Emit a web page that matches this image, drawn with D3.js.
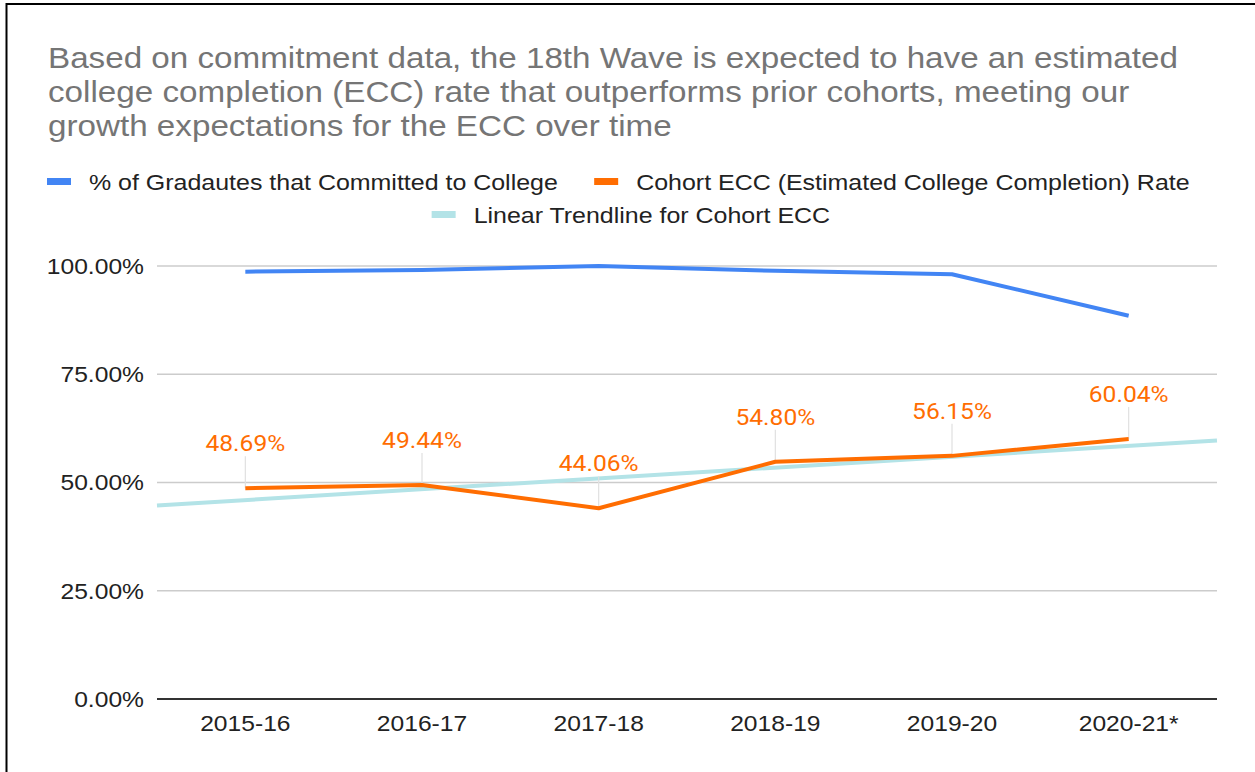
<!DOCTYPE html>
<html>
<head>
<meta charset="utf-8">
<script src="https://cdn.jsdelivr.net/npm/d3@7"></script>
<style>
  html, body { margin: 0; padding: 0; background: #fff; }
  svg { display: block; }
</style>
</head>
<body>
<svg id="chart" width="1255" height="772"></svg>
<script>
// ---- data ----
const categories = ["2015-16", "2016-17", "2017-18", "2018-19", "2019-20", "2020-21*"];
const committedValues = [0.987, 0.991, 1.000, 0.989, 0.981, 0.885];
const eccValues = [0.4869, 0.4944, 0.4406, 0.5480, 0.5615, 0.6004];
const yTicks = [0, 0.25, 0.5, 0.75, 1.0];
const titleLines = [
  "Based on commitment data, the 18th Wave is expected to have an estimated",
  "college completion (ECC) rate that outperforms prior cohorts, meeting our",
  "growth expectations for the ECC over time"
];
const seriesNames = [
  "% of Gradautes that Committed to College",
  "Cohort ECC (Estimated College Completion) Rate",
  "Linear Trendline for Cohort ECC"
];
const seriesColors = ["#4285f4", "#ff6d01", "#b3e3e7"];

// ---- layout ----
const W = 1255, H = 772;
const SX = 1.12; // horizontal text stretch of the reference rendering
const plot = { left: 157, right: 1217, top: 266, bottom: 699 };
const svg = d3.select("#chart");
const sans = "'Liberation Sans', Arial, sans-serif";

function stretchText(sel) {
  sel.each(function () {
    const t = d3.select(this);
    const x0 = +t.attr("x") || 0, y0 = +t.attr("y") || 0;
    t.attr("x", 0).attr("y", 0)
     .attr("transform", `translate(${x0},${y0}) scale(${SX},1)`);
  });
}

// frame
svg.append("line").attr("x1", 6).attr("x2", W).attr("y1", 4).attr("y2", 4)
  .attr("stroke", "#000").attr("stroke-width", 2);
svg.append("line").attr("x1", 6.5).attr("x2", 6.5).attr("y1", 3).attr("y2", H)
  .attr("stroke", "#000").attr("stroke-width", 2);

// title
svg.append("g").selectAll("text").data(titleLines).join("text")
  .attr("x", 48).attr("y", (d, i) => 68 + i * 34)
  .attr("font-family", sans).attr("font-size", 29.65).attr("fill", "#757575")
  .text(d => d)
  .call(stretchText);

// legend
const legend = svg.append("g").attr("font-family", sans).attr("font-size", 22.3).attr("fill", "#222");
function legendItem(g, x, yc, i) {
  g.append("rect").attr("x", x).attr("y", yc - 3.5).attr("width", 24).attr("height", 7)
    .attr("fill", seriesColors[i]);
  const t = g.append("text").attr("x", x + 42).attr("y", yc + 8).text(seriesNames[i]);
  const w = t.node().getComputedTextLength() * SX;
  t.call(stretchText);
  return x + 42 + w;
}
let lx = legendItem(legend, 47, 181.5, 0);
legendItem(legend, lx + 36, 181.5, 1);
// second row centered
const tmp = legend.append("text").text(seriesNames[2]);
const w2 = 42 + tmp.node().getComputedTextLength() * SX;
tmp.remove();
legendItem(legend, 631 - w2 / 2, 214.5, 2);

// scales
const x = d3.scaleBand().domain(categories).range([plot.left, plot.right]);
const y = d3.scaleLinear().domain([0, 1]).range([plot.bottom, plot.top]);
const cx = d => x(d) + x.bandwidth() / 2;

// gridlines
svg.append("g").selectAll("line").data(yTicks.filter(t => t > 0)).join("line")
  .attr("x1", plot.left).attr("x2", plot.right)
  .attr("y1", d => y(d)).attr("y2", d => y(d))
  .attr("stroke", "#cccccc").attr("stroke-width", 1.5);

// y axis labels
const yAxis = d3.axisLeft(y).tickValues(yTicks).tickFormat(d3.format(".2%")).tickSize(0).tickPadding(13);
const yg = svg.append("g").attr("transform", `translate(${plot.left},0)`).call(yAxis);
yg.select(".domain").remove();
yg.selectAll("text").attr("font-family", sans).attr("font-size", 22).attr("fill", "#222")
  .attr("dy", "0.34em").call(stretchText);

// x axis
const xAxis = d3.axisBottom(x).tickSize(0).tickPadding(16);
const xg = svg.append("g").attr("transform", `translate(0,${plot.bottom})`).call(xAxis);
xg.select(".domain").remove();
xg.selectAll("text").attr("font-family", sans).attr("font-size", 22).attr("fill", "#222")
  .call(stretchText);

// baseline
svg.append("line").attr("x1", plot.left).attr("x2", plot.right)
  .attr("y1", y(0)).attr("y2", y(0)).attr("stroke", "#333").attr("stroke-width", 2);

// linear trendline (least squares over the ECC series)
const n = eccValues.length;
const idx = d3.range(n);
const mx = d3.mean(idx), my = d3.mean(eccValues);
const slope = d3.sum(idx, i => (i - mx) * (eccValues[i] - my)) / d3.sum(idx, i => (i - mx) ** 2);
const icpt = my - slope * mx;
const xi = d3.scaleLinear().domain([-0.5, n - 0.5]).range([plot.left, plot.right]);
const trendEnds = [-0.5, n - 0.5];
svg.append("path")
  .attr("d", d3.line().x(t => xi(t)).y(t => y(icpt + slope * t))(trendEnds))
  .attr("fill", "none").attr("stroke", seriesColors[2]).attr("stroke-width", 4);

// data label leaders
svg.append("g").selectAll("line").data(eccValues).join("line")
  .attr("x1", (d, i) => cx(categories[i])).attr("x2", (d, i) => cx(categories[i]))
  .attr("y1", d => y(d) - 32).attr("y2", d => y(d))
  .attr("stroke", "#e0e0e0").attr("stroke-width", 1.2);

// lines
const line = d3.line().x((d, i) => cx(categories[i])).y(d => y(d));
svg.append("path").attr("d", line(committedValues))
  .attr("fill", "none").attr("stroke", seriesColors[0]).attr("stroke-width", 4)
  .attr("stroke-linejoin", "round");
svg.append("path").attr("d", line(eccValues))
  .attr("fill", "none").attr("stroke", seriesColors[1]).attr("stroke-width", 4)
  .attr("stroke-linejoin", "round");

// data labels
svg.append("g").selectAll("text").data(eccValues).join("text")
  .attr("x", (d, i) => cx(categories[i])).attr("y", d => y(d) - 37)
  .attr("text-anchor", "middle")
  .attr("font-family", "Roboto, sans-serif").attr("font-size", 22).attr("fill", "#ff6d01")
  .text(d => d3.format(".2%")(d))
  .call(stretchText);
</script>
</body>
</html>
